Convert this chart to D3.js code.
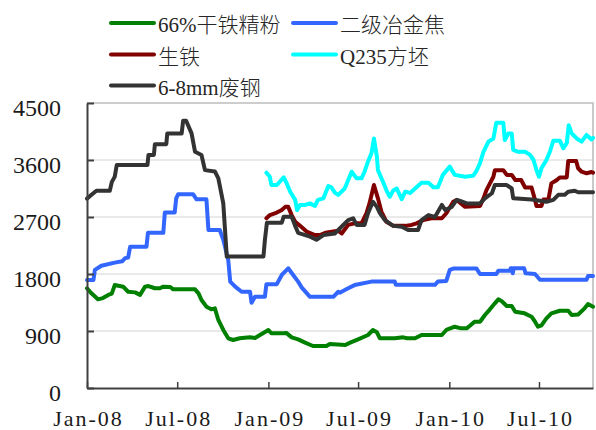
<!DOCTYPE html>
<html>
<head>
<meta charset="utf-8">
<script src="https://cdn.jsdelivr.net/npm/d3@7/dist/d3.min.js"></script>
<style>
  html, body { margin: 0; padding: 0; background: #ffffff; }
  svg { display: block; }
</style>
</head>
<body>
<div id="chart"></div>
<script>
// ---------------- DATA ----------------
const seriesNames = ["66%干铁精粉", "二级冶金焦", "生铁", "Q235方坯", "6-8mm废钢"];
const seriesColors = ["#008000", "#3366ff", "#800000", "#00ffff", "#333333"];

const yTicks = [0, 900, 1800, 2700, 3600, 4500];
const xTickDates = ["2008-01-01", "2008-07-01", "2009-01-01", "2009-07-01", "2010-01-01", "2010-07-01"];
const xTickLabels = ["Jan-08", "Jul-08", "Jan-09", "Jul-09", "Jan-10", "Jul-10"];
const xDomain = ["2008-01-01", "2010-10-18"];

// 66%干铁精粉
const ironOre = [
  ["2008-01-01",1575],["2008-01-10",1495],["2008-01-23",1400],["2008-02-02",1420],["2008-02-13",1470],
  ["2008-02-20",1490],["2008-02-26",1625],["2008-03-14",1600],["2008-03-24",1520],["2008-04-07",1510],
  ["2008-04-17",1470],["2008-04-27",1600],["2008-05-04",1610],["2008-05-17",1575],["2008-05-27",1575],
  ["2008-06-03",1600],["2008-06-17",1595],["2008-06-23",1558],["2008-08-06",1558],["2008-08-13",1495],
  ["2008-08-19",1390],["2008-08-29",1284],["2008-09-08",1242],["2008-09-15",1258],["2008-09-22",1074],
  ["2008-10-02",916],["2008-10-12",785],["2008-10-22",758],["2008-11-04",785],["2008-11-25",800],
  ["2008-12-05",790],["2008-12-15",837],["2009-01-01",916],["2009-01-07",864],["2009-02-01",864],
  ["2009-02-06",870],["2009-02-17",800],["2009-03-02",768],["2009-03-16",716],["2009-04-01",663],
  ["2009-04-28",663],["2009-05-05",695],["2009-06-05",679],["2009-06-15",716],["2009-07-01",768],
  ["2009-07-21",837],["2009-07-31",916],["2009-08-08",880],["2009-08-14",785],["2009-09-13",785],
  ["2009-09-30",800],["2009-10-08",785],["2009-10-24",785],["2009-11-06",837],["2009-12-17",837],
  ["2009-12-26",916],["2010-01-12",968],["2010-01-25",942],["2010-02-05",942],["2010-02-11",979],
  ["2010-02-21",1047],["2010-03-04",1047],["2010-03-14",1153],["2010-03-24",1242],["2010-04-03",1337],
  ["2010-04-10",1400],["2010-04-17",1370],["2010-04-27",1295],["2010-05-07",1295],["2010-05-14",1205],
  ["2010-06-02",1179],["2010-06-16",1126],["2010-06-23",1047],["2010-06-29",968],["2010-07-06",990],
  ["2010-07-16",1100],["2010-07-26",1179],["2010-08-12",1220],["2010-08-29",1220],["2010-09-05",1153],
  ["2010-09-18",1160],["2010-10-01",1258],["2010-10-08",1326],["2010-10-18",1284]
];

// 二级冶金焦
const coke = [
  ["2008-01-01",1705],["2008-01-14",1705],["2008-01-17",1865],["2008-01-30",1930],["2008-02-26",1980],
  ["2008-03-12",2000],["2008-03-18",2050],["2008-03-24",2060],["2008-03-28",2230],["2008-04-30",2230],
  ["2008-05-03",2450],["2008-06-03",2450],["2008-06-06",2770],["2008-06-26",2770],["2008-06-29",2995],
  ["2008-07-03",3060],["2008-08-02",3060],["2008-08-09",2980],["2008-08-29",2980],["2008-09-02",2495],
  ["2008-09-25",2495],["2008-10-02",2340],["2008-10-12",2020],["2008-10-16",1680],["2008-10-26",1600],
  ["2008-11-08",1520],["2008-11-25",1520],["2008-11-28",1347],["2008-12-05",1440],["2008-12-25",1440],
  ["2008-12-28",1640],["2009-01-18",1640],["2009-01-28",1785],["2009-02-10",1890],["2009-02-20",1785],
  ["2009-03-02",1680],["2009-03-09",1590],["2009-03-26",1440],["2009-05-12",1440],["2009-05-22",1520],
  ["2009-05-25",1505],["2009-06-11",1575],["2009-06-24",1625],["2009-07-28",1680],["2009-09-13",1680],
  ["2009-09-15",1630],["2009-12-03",1630],["2009-12-09",1680],["2009-12-26",1690],["2010-01-02",1865],
  ["2010-01-09",1885],["2010-02-25",1885],["2010-03-04",1800],["2010-04-06",1800],["2010-04-10",1852],
  ["2010-05-03",1852],["2010-05-05",1890],["2010-05-08",1890],["2010-05-09",1810],["2010-05-11",1890],
  ["2010-06-01",1890],["2010-06-04",1810],["2010-06-23",1800],["2010-07-03",1710],["2010-10-05",1710],
  ["2010-10-08",1770],["2010-10-18",1770]
];

// 生铁
const pigIron = [
  ["2008-12-28",2680],["2009-01-04",2730],["2009-01-18",2770],["2009-01-28",2810],["2009-02-04",2860],
  ["2009-02-10",2860],["2009-02-17",2730],["2009-02-24",2625],["2009-03-06",2560],["2009-03-19",2470],
  ["2009-04-05",2415],["2009-04-15",2415],["2009-04-26",2450],["2009-05-22",2485],["2009-05-29",2440],
  ["2009-06-11",2575],["2009-06-24",2600],["2009-07-08",2600],["2009-07-18",2760],["2009-07-24",2915],
  ["2009-08-02",3205],["2009-08-10",2995],["2009-08-17",2785],["2009-08-27",2625],["2009-09-10",2560],
  ["2009-10-04",2560],["2009-10-17",2575],["2009-10-27",2600],["2009-11-09",2650],["2009-11-26",2680],
  ["2009-12-17",2680],["2009-12-26",2760],["2010-01-09",2940],["2010-01-16",2970],["2010-02-02",2860],
  ["2010-03-04",2875],["2010-03-11",2995],["2010-03-17",3125],["2010-03-31",3335],["2010-04-03",3440],
  ["2010-04-20",3440],["2010-04-27",3365],["2010-05-07",3365],["2010-05-14",3285],["2010-05-26",3285],
  ["2010-06-03",3165],["2010-06-16",3165],["2010-06-23",2970],["2010-06-26",2875],["2010-07-06",2875],
  ["2010-07-10",2975],["2010-07-20",2975],["2010-07-26",3230],["2010-08-06",3285],["2010-08-12",3325],
  ["2010-08-26",3325],["2010-08-29",3585],["2010-09-14",3585],["2010-09-18",3470],["2010-09-25",3415],
  ["2010-10-05",3390],["2010-10-15",3410],["2010-10-18",3400]
];

// Q235方坯
const billet = [
  ["2008-12-28",3400],["2009-01-04",3335],["2009-01-07",3205],["2009-01-18",3205],["2009-02-01",3325],
  ["2009-02-07",3230],["2009-02-14",3100],["2009-02-24",2970],["2009-02-28",2810],["2009-03-06",2890],
  ["2009-03-16",2890],["2009-03-26",2915],["2009-04-05",2875],["2009-04-11",2970],["2009-04-22",2995],
  ["2009-05-02",3190],["2009-05-08",3170],["2009-05-15",3085],["2009-05-22",3050],["2009-06-04",3150],
  ["2009-06-18",3415],["2009-06-28",3310],["2009-07-08",3310],["2009-07-14",3415],["2009-07-21",3575],
  ["2009-07-28",3705],["2009-08-02",3940],["2009-08-08",3650],["2009-08-10",3440],["2009-08-20",3260],
  ["2009-08-27",3125],["2009-09-03",3020],["2009-09-10",3120],["2009-09-17",3150],["2009-09-23",3050],
  ["2009-09-27",2980],["2009-10-04",3100],["2009-10-14",3080],["2009-10-24",3150],["2009-11-06",3240],
  ["2009-11-20",3240],["2009-11-30",3170],["2009-12-09",3170],["2009-12-19",3365],["2010-01-02",3495],
  ["2010-01-12",3365],["2010-02-02",3335],["2010-02-18",3350],["2010-02-25",3430],["2010-03-04",3550],
  ["2010-03-11",3730],["2010-03-21",3890],["2010-03-31",3940],["2010-04-06",4190],["2010-04-20",4190],
  ["2010-04-23",3915],["2010-04-30",4020],["2010-05-07",4020],["2010-05-10",3760],["2010-05-20",3730],
  ["2010-06-03",3730],["2010-06-13",3680],["2010-06-20",3600],["2010-06-26",3440],["2010-07-01",3335],
  ["2010-07-06",3470],["2010-07-16",3600],["2010-07-23",3730],["2010-07-30",3905],["2010-08-12",3905],
  ["2010-08-19",3785],["2010-08-26",3865],["2010-08-30",4150],["2010-09-05",4020],["2010-09-15",3940],
  ["2010-09-25",3890],["2010-10-05",3995],["2010-10-15",3925],["2010-10-18",3950]
];

// 6-8mm废钢
const scrap = [
  ["2008-01-01",2990],["2008-01-10",3050],["2008-01-20",3115],["2008-02-16",3115],["2008-02-20",3250],
  ["2008-02-26",3337],["2008-03-01",3520],["2008-05-02",3520],["2008-05-04",3680],["2008-05-15",3680],
  ["2008-05-17",3850],["2008-06-09",3850],["2008-06-11",4020],["2008-07-10",4020],["2008-07-13",4220],
  ["2008-07-19",4220],["2008-07-30",4020],["2008-08-06",3730],["2008-08-19",3680],["2008-08-26",3440],
  ["2008-09-15",3420],["2008-09-22",3310],["2008-10-02",2915],["2008-10-09",2075],["2008-12-22",2075],
  ["2008-12-25",2340],["2008-12-29",2610],["2009-01-28",2610],["2009-02-01",2705],["2009-02-17",2705],
  ["2009-02-24",2560],["2009-03-02",2450],["2009-03-26",2390],["2009-04-08",2340],["2009-04-22",2415],
  ["2009-05-15",2440],["2009-05-22",2495],["2009-06-11",2650],["2009-06-21",2680],["2009-06-28",2575],
  ["2009-07-14",2575],["2009-07-21",2760],["2009-07-31",2940],["2009-08-08",2860],["2009-08-14",2760],
  ["2009-08-24",2650],["2009-09-10",2560],["2009-09-27",2545],["2009-10-10",2495],["2009-10-30",2495],
  ["2009-11-06",2650],["2009-11-20",2730],["2009-12-03",2700],["2009-12-17",2890],["2009-12-24",2810],
  ["2010-01-06",2860],["2010-01-16",2970],["2010-01-23",2955],["2010-02-05",2915],["2010-03-04",2915],
  ["2010-03-14",2995],["2010-03-28",3075],["2010-04-03",3205],["2010-04-27",3205],["2010-05-07",3150],
  ["2010-05-10",2995],["2010-06-16",2975],["2010-07-03",2955],["2010-07-16",2940],["2010-07-30",2970],
  ["2010-08-09",3050],["2010-08-22",3050],["2010-08-29",3100],["2010-09-11",3115],["2010-09-18",3090],
  ["2010-10-18",3090]
];

const seriesData = [ironOre, coke, pigIron, billet, scrap];

// ---------------- CHART ----------------
const W = 596, H = 430;
const plot = { left: 87, right: 593, top: 103, bottom: 388 };
const parse = d3.timeParse("%Y-%m-%d");

const svg = d3.select("#chart").append("svg")
  .attr("width", W).attr("height", H);

const x = d3.scaleTime()
  .domain(xDomain.map(parse))
  .range([plot.left, plot.right]);
const y = d3.scaleLinear()
  .domain([0, 4500])
  .range([plot.bottom, plot.top]);

// gridlines
svg.append("g").selectAll("line")
  .data(yTicks.filter(v => v > 0 && v < 4500))
  .join("line")
  .attr("x1", plot.left).attr("x2", plot.right)
  .attr("y1", d => y(d)).attr("y2", d => y(d))
  .attr("stroke", "#d4d4d4").attr("stroke-width", 1);

// top & right border
svg.append("path")
  .attr("d", `M${plot.left},${y(4500)}H${plot.right}V${plot.bottom}`)
  .attr("fill", "none").attr("stroke", "#bdbdbd").attr("stroke-width", 1.6);

// series lines
const line = d3.line()
  .x(d => x(parse(d[0])))
  .y(d => y(d[1]));

svg.append("g").selectAll("path")
  .data(seriesData)
  .join("path")
  .attr("d", d => line(d))
  .attr("fill", "none")
  .attr("stroke", (d, i) => seriesColors[i])
  .attr("stroke-width", 4)
  .attr("stroke-linejoin", "round")
  .attr("stroke-linecap", "round");

// y axis
const yAxis = d3.axisLeft(y)
  .tickValues(yTicks)
  .tickSizeInner(-7)
  .tickSizeOuter(0)
  .tickPadding(26)
  .tickFormat(d3.format("d"));
const gy = svg.append("g")
  .attr("transform", `translate(${plot.left},0)`)
  .call(yAxis);
gy.select(".domain").attr("stroke", "#404040").attr("stroke-width", 2);
gy.selectAll(".tick line").attr("stroke", "#404040").attr("stroke-width", 2);
gy.selectAll(".tick text")
  .attr("dy", "0.54em")
  .attr("fill", "#1a1a1a")
  .style("font-family", "'Liberation Serif', 'Times New Roman', serif")
  .style("font-size", "24px");

// x axis
const xAxis = d3.axisBottom(x)
  .tickValues(xTickDates.map(parse))
  .tickSizeInner(-6)
  .tickSizeOuter(0)
  .tickPadding(22)
  .tickFormat((d, i) => xTickLabels[i]);
const gx = svg.append("g")
  .attr("transform", `translate(0,${plot.bottom})`)
  .call(xAxis);
gx.select(".domain").attr("stroke", "#404040").attr("stroke-width", 2);
gx.selectAll(".tick line").attr("stroke", "#404040").attr("stroke-width", 1.5);
gx.selectAll(".tick text")
  .attr("y", 38).attr("dy", 0).attr("dx", 1)
  .attr("fill", "#1a1a1a")
  .style("font-family", "'Liberation Serif', 'Times New Roman', serif")
  .style("font-size", "22px")
  .style("letter-spacing", "2px");

// legend
const legendPos = [
  { lx: 111, ly: 23 }, { lx: 293, ly: 23 },
  { lx: 111, ly: 54.5 }, { lx: 293, ly: 54.5 },
  { lx: 111, ly: 85.5 }
];
const lg = svg.append("g").selectAll("g")
  .data(seriesNames)
  .join("g")
  .attr("transform", (d, i) => `translate(${legendPos[i].lx},${legendPos[i].ly})`);
lg.append("line")
  .attr("x1", 0).attr("x2", 43).attr("y1", 0).attr("y2", 0)
  .attr("stroke", (d, i) => seriesColors[i])
  .attr("stroke-width", 4)
  .attr("stroke-linecap", "round");
lg.append("text")
  .attr("x", 47).attr("y", 9)
  .attr("fill", "#262626")
  .style("font-family", "'Liberation Serif', 'Noto Sans CJK SC', serif")
  .style("font-size", "21px")
  .style("font-weight", "300")
  .text(d => d);
</script>
</body>
</html>
